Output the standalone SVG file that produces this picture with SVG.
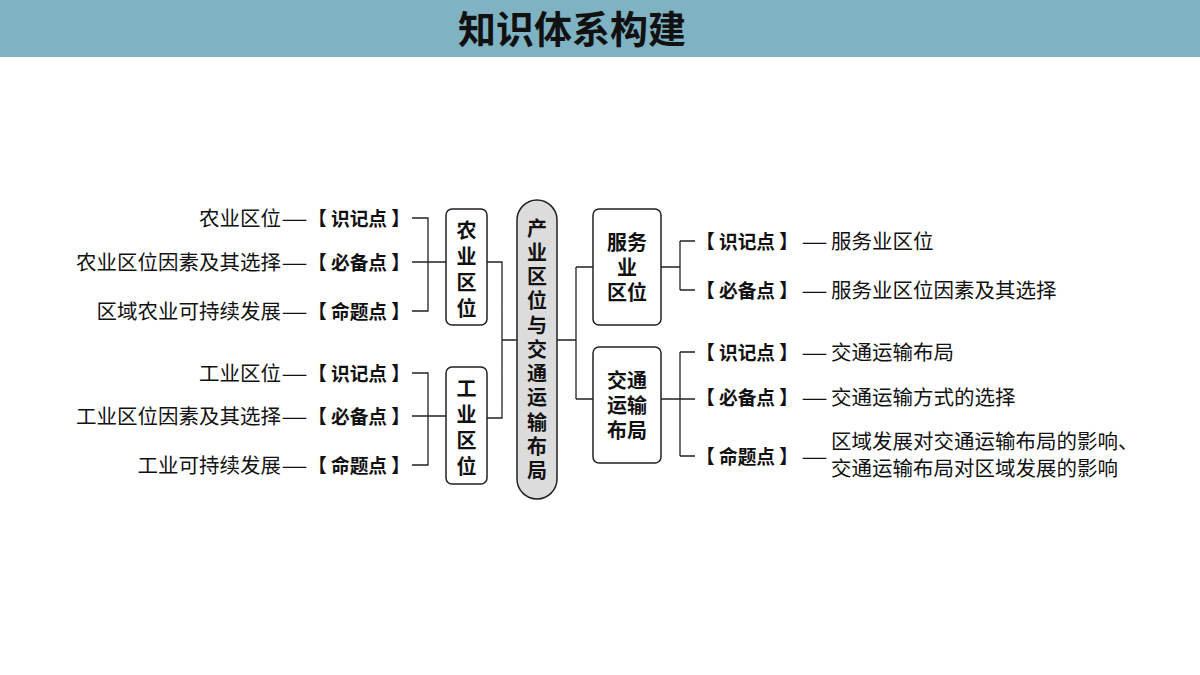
<svg xmlns="http://www.w3.org/2000/svg" width="1200" height="675" viewBox="0 0 1200 675">
<style>
text{font-family:"Noto Sans CJK SC","Noto Sans",sans-serif;fill:#111}
.n{font-size:20.5px}
.b{font-size:19px;font-weight:bold}
.box{fill:#fff;stroke:#222;stroke-width:1.5}
.bt{font-size:20px;font-weight:bold;text-anchor:middle}
.c{fill:none;stroke:#222;stroke-width:1.3}
.e{text-anchor:end}
</style>
<rect x="0" y="0" width="1200" height="57" fill="#7fb3c3"/>
<text x="572" y="43" font-size="38" font-weight="bold" text-anchor="middle">知识体系构建</text>
<g id="connectors">
<path class="c" d="M412 218H428V311H412M412 262H446M412 373H428V465H412M412 416H446M487 262H502V418H487M502 340H518M557 340H576M576 267V399M576 267H593M576 399H593M661 267H680M680 241V290M680 241H695M680 290H695M661 399H680M680 352V456M680 352H695M680 399H695M680 456H695"/>
</g>
<g id="agri-items">
<text class="n e" x="281" y="226">农业区位</text><text class="n" x="282" y="226" textLength="25" lengthAdjust="spacingAndGlyphs">——</text><text class="b" x="308" y="226" textLength="102" lengthAdjust="spacingAndGlyphs">【 识记点 】</text>
<text class="n e" x="281" y="270">农业区位因素及其选择</text><text class="n" x="282" y="270" textLength="25" lengthAdjust="spacingAndGlyphs">——</text><text class="b" x="308" y="270" textLength="102" lengthAdjust="spacingAndGlyphs">【 必备点 】</text>
<text class="n e" x="281" y="319">区域农业可持续发展</text><text class="n" x="282" y="319" textLength="25" lengthAdjust="spacingAndGlyphs">——</text><text class="b" x="308" y="319" textLength="102" lengthAdjust="spacingAndGlyphs">【 命题点 】</text>
</g>
<g id="ind-items">
<text class="n e" x="281" y="381">工业区位</text><text class="n" x="282" y="381" textLength="25" lengthAdjust="spacingAndGlyphs">——</text><text class="b" x="308" y="381" textLength="102" lengthAdjust="spacingAndGlyphs">【 识记点 】</text>
<text class="n e" x="281" y="424">工业区位因素及其选择</text><text class="n" x="282" y="424" textLength="25" lengthAdjust="spacingAndGlyphs">——</text><text class="b" x="308" y="424" textLength="102" lengthAdjust="spacingAndGlyphs">【 必备点 】</text>
<text class="n e" x="281" y="473">工业可持续发展</text><text class="n" x="282" y="473" textLength="25" lengthAdjust="spacingAndGlyphs">——</text><text class="b" x="308" y="473" textLength="102" lengthAdjust="spacingAndGlyphs">【 命题点 】</text>
</g>
<g id="agri"><rect class="box" x="446" y="209" width="41" height="116" rx="6"/>
<text class="bt" x="466.5" y="238">农</text><text class="bt" x="466.5" y="264">业</text><text class="bt" x="466.5" y="290">区</text><text class="bt" x="466.5" y="316">位</text></g>
<g id="ind"><rect class="box" x="446" y="367" width="41" height="117" rx="6"/>
<text class="bt" x="466.5" y="396">工</text><text class="bt" x="466.5" y="422">业</text><text class="bt" x="466.5" y="448">区</text><text class="bt" x="466.5" y="474">位</text></g>
<g id="center"><rect x="517" y="200" width="40" height="299" rx="20" fill="#dcdcdc" stroke="#222" stroke-width="1.5"/>
<text class="bt" x="537" y="236">产</text><text class="bt" x="537" y="260">业</text><text class="bt" x="537" y="284">区</text><text class="bt" x="537" y="308">位</text><text class="bt" x="537" y="333">与</text><text class="bt" x="537" y="357">交</text><text class="bt" x="537" y="381">通</text><text class="bt" x="537" y="405">运</text><text class="bt" x="537" y="430">输</text><text class="bt" x="537" y="454">布</text><text class="bt" x="537" y="478">局</text></g>
<g id="service"><rect class="box" x="593" y="209" width="68" height="116" rx="6"/>
<text class="bt" x="627" y="250">服务</text><text class="bt" x="627" y="275">业</text><text class="bt" x="627" y="300">区位</text></g>
<g id="transport"><rect class="box" x="593" y="347" width="68" height="116" rx="6"/>
<text class="bt" x="627" y="388">交通</text><text class="bt" x="627" y="413">运输</text><text class="bt" x="627" y="438">布局</text></g>
<g id="service-items">
<text class="b" x="696" y="249" textLength="102" lengthAdjust="spacingAndGlyphs">【 识记点 】</text><text class="n" x="802" y="249" textLength="25" lengthAdjust="spacingAndGlyphs">——</text><text class="n" x="831" y="249">服务业区位</text>
<text class="b" x="696" y="298" textLength="102" lengthAdjust="spacingAndGlyphs">【 必备点 】</text><text class="n" x="802" y="298" textLength="25" lengthAdjust="spacingAndGlyphs">——</text><text class="n" x="831" y="298">服务业区位因素及其选择</text>
</g>
<g id="transport-items">
<text class="b" x="696" y="360" textLength="102" lengthAdjust="spacingAndGlyphs">【 识记点 】</text><text class="n" x="802" y="360" textLength="25" lengthAdjust="spacingAndGlyphs">——</text><text class="n" x="831" y="360">交通运输布局</text>
<text class="b" x="696" y="405" textLength="102" lengthAdjust="spacingAndGlyphs">【 必备点 】</text><text class="n" x="802" y="405" textLength="25" lengthAdjust="spacingAndGlyphs">——</text><text class="n" x="831" y="405">交通运输方式的选择</text>
<text class="b" x="696" y="464" textLength="102" lengthAdjust="spacingAndGlyphs">【 命题点 】</text><text class="n" x="802" y="464" textLength="25" lengthAdjust="spacingAndGlyphs">——</text><text class="n" x="831" y="449">区域发展对交通运输布局的影响、</text><text class="n" x="831" y="476">交通运输布局对区域发展的影响</text>
</g>
</svg>
